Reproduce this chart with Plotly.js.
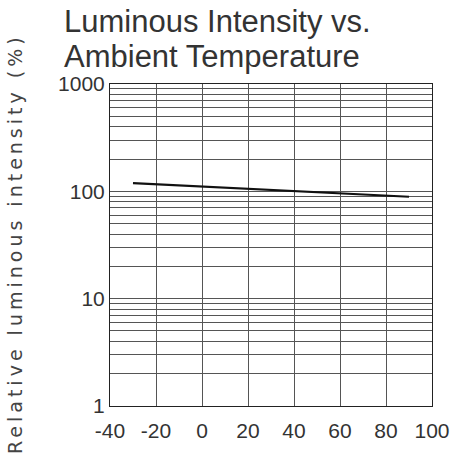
<!DOCTYPE html>
<html>
<head>
<meta charset="utf-8">
<script src="https://cdn.plot.ly/plotly-3.0.1.min.js"></script>
<style>html,body{margin:0;padding:0;background:#fff;}#chart{width:474px;height:457px;}</style>
</head>
<body>
<div id="chart"></div>
<script>
// Data
var temperature = [-30, 0, 40, 90];
var relIntensity = [119, 111, 100, 89];

var xTickVals = [-40, -20, 0, 20, 40, 60, 80, 100];
var xTickText = ['-40', '-20', '0', '20', '40', '60', '80', '100'];
var yDecades = [1, 10, 100, 1000];
var yDecadeLabels = ['1', '10', '100', '1000'];

var titleLine1 = 'Luminous Intensity vs.';
var titleLine2 = 'Ambient Temperature';
var yTitle = 'Relative luminous intensity (%)';

// Build log grid positions (1..9 per decade) from decades
var yTickVals = [], yTickText = [];
for (var d = 0; d < yDecades.length; d++) {
  var base = yDecades[d];
  var maxk = (d === yDecades.length - 1) ? 1 : 9;
  for (var k = 1; k <= maxk; k++) {
    yTickVals.push(base * k);
    yTickText.push(k === 1 ? yDecadeLabels[d] : '');
  }
}

var tickFont = {family: 'Liberation Sans Narrow, Arial Narrow, sans-serif', size: 21, color: '#333'};
var titleFont = {family: 'Liberation Sans Narrow, sans-serif', size: 27, color: '#333'};
var big = function (s) { return '<span style="font-size:31px">' + s + '</span>'; };

var trace = {
  x: temperature, y: relIntensity, type: 'scatter', mode: 'lines',
  line: {color: '#111', width: 2.2}, hoverinfo: 'skip'
};

var layout = {
  width: 474, height: 457,
  margin: {l: 110, r: 42, t: 84, b: 51},
  paper_bgcolor: '#fff', plot_bgcolor: '#fff',
  showlegend: false,
  xaxis: {
    range: [-40, 100], tickvals: xTickVals, ticktext: xTickText,
    showgrid: true, gridcolor: '#555', gridwidth: 1,
    zeroline: false, showline: true, linecolor: '#222', linewidth: 1, mirror: true,
    ticks: '', tickfont: tickFont, ticklabelstandoff: 6
  },
  yaxis: {
    type: 'log', range: [0, 3], tickvals: yTickVals, ticktext: yTickText,
    showgrid: true, gridcolor: '#555', gridwidth: 1,
    zeroline: false, showline: true, linecolor: '#222', linewidth: 1, mirror: true,
    ticks: '', tickfont: tickFont
  },
  annotations: [
    {xref: 'paper', yref: 'paper', x: -0.149, y: 1.2547, xanchor: 'left', yanchor: 'top',
     align: 'left', text: big(titleLine1) + '<br>' + big(titleLine2), showarrow: false, font: titleFont},
    {xref: 'paper', yref: 'paper', x: -0.295, y: 0.503, xanchor: 'center', yanchor: 'middle',
     textangle: -90, showarrow: false,
     text: '<span style="letter-spacing:4px">' + yTitle + '</span>',
     font: {family: 'DejaVu Sans, sans-serif', size: 19, color: '#444'}}
  ]
};

Plotly.newPlot('chart', [trace], layout, {displayModeBar: false, staticPlot: true});
</script>
</body>
</html>
